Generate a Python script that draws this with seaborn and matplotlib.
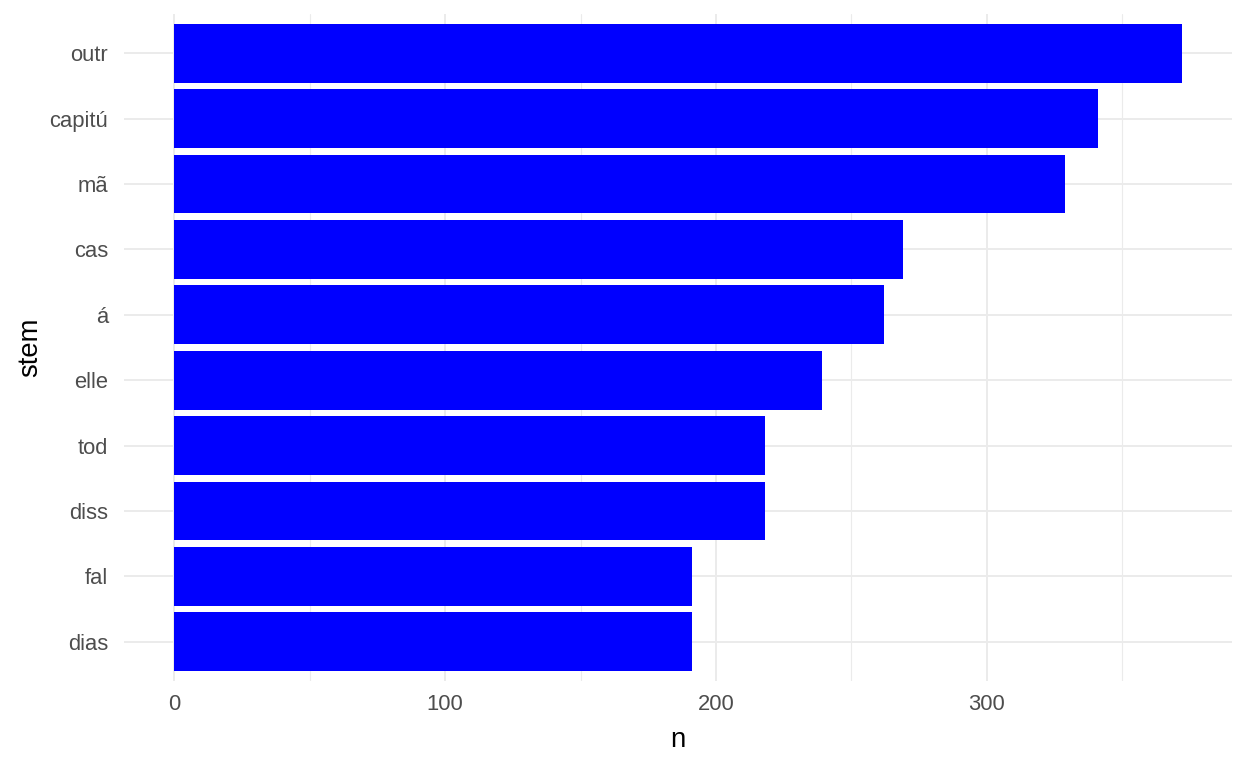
import numpy as np
import pandas as pd
import matplotlib
matplotlib.use("Agg")
import matplotlib.pyplot as plt
import seaborn as sns
from matplotlib.ticker import MultipleLocator

# word stem counts
stems = ['outr', 'capitú', 'mã', 'cas', 'á', 'elle', 'tod', 'diss', 'fal', 'dias']
counts = [372, 341, 329, 269, 262, 239, 218, 218, 191, 191]

df = pd.DataFrame({'stem': stems, 'n': counts})

sns.set_theme(style='white')
plt.rcParams['font.family'] = ['Liberation Sans', 'DejaVu Sans']

fig = plt.figure(figsize=(12.48, 7.68), dpi=100)
W, H = 1248, 768
left, right, top, bottom = 124, 1232, 14, 681
ax = fig.add_axes([left / W, (H - bottom) / H, (right - left) / W, (bottom - top) / H])

sns.barplot(data=df, x='n', y='stem', order=stems, color='#0000FF',
            saturation=1, width=0.9, linewidth=0, ax=ax, zorder=3)

span = max(counts)
ax.set_xlim(-0.05 * span, span * 1.05)
ax.set_ylim(len(stems) - 0.4, -0.6)

ax.xaxis.set_major_locator(MultipleLocator(100))
ax.xaxis.set_minor_locator(MultipleLocator(50))
ax.grid(which='major', axis='both', color='#EBEBEB', lw=1.4, zorder=0)
ax.grid(which='minor', axis='x', color='#EBEBEB', lw=0.8, zorder=0)
ax.set_axisbelow(True)
for s in ax.spines.values():
    s.set_visible(False)

ax.tick_params(axis='both', which='both', length=0, labelsize=15.8, labelcolor='#4D4D4D')
ax.tick_params(axis='y', pad=11.5)
ax.tick_params(axis='x', pad=9)

ax.set_xlabel('n', fontsize=19.8, color='black')
ax.set_ylabel('stem', fontsize=19.8, color='black')
ax.xaxis.label.set_va('center')
ax.yaxis.label.set_va('center')
ax.xaxis.set_label_coords(0.5, (bottom - 740) / (bottom - top))
ax.yaxis.set_label_coords((30 - left) / (right - left), 0.5)

fig.savefig('out.png', dpi=100, facecolor='white')
